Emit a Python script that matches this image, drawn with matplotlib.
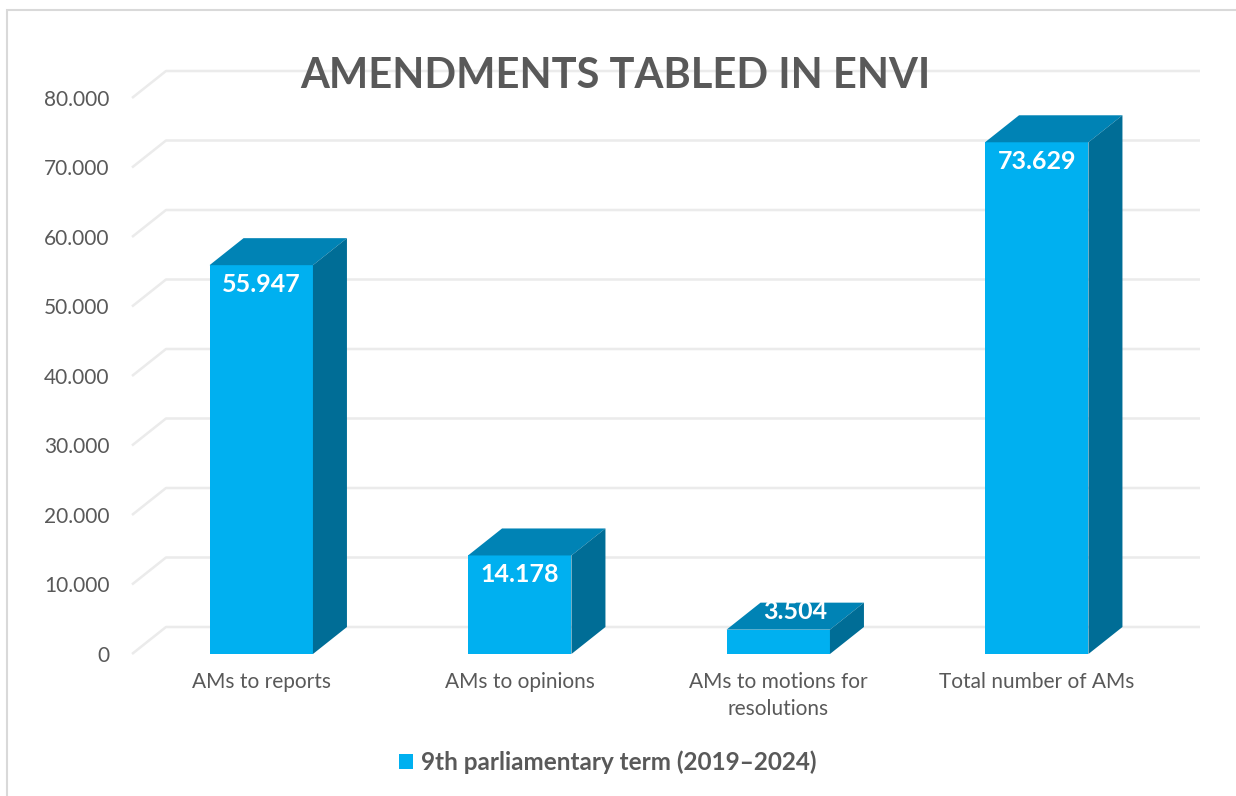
import matplotlib.pyplot as plt
from matplotlib.patches import Patch, Polygon, Rectangle
from matplotlib.ticker import FuncFormatter

categories = ["AMs to reports", "AMs to opinions", "AMs to motions for\nresolutions", "Total number of AMs"]
values = [55947, 14178, 3504, 73629]
series_name = "9th parliamentary term (2019–2024)"
y_ticks = [0, 10000, 20000, 30000, 40000, 50000, 60000, 70000, 80000]
title = "AMENDMENTS TABLED IN ENVI"

FRONT = "#00b0f0"
TOP = "#0083b5"
SIDE = "#006d96"
GRID = "#ebebeb"
TEXT = "#595959"
FONT = "Lato"

W, H = 1236, 796
fig = plt.figure(figsize=(W / 100, H / 100), dpi=100)

# plot area (front plane) in pixels
left_px, right_px, bottom_px, top_px = 132, 1166, 654, 98
ax = fig.add_axes([left_px / W, 1 - bottom_px / H, (right_px - left_px) / W, (bottom_px - top_px) / H])
ax.set_xlim(-0.5, len(categories) - 0.5)
ax.set_ylim(0, y_ticks[-1])
for s in ax.spines.values():
    s.set_visible(False)

# fake 3D depth, in pixels -> data units
depth_x_px, depth_y_px = 34, 27
px_per_cat = (right_px - left_px) / len(categories)
px_per_unit = (bottom_px - top_px) / y_ticks[-1]
dx = depth_x_px / px_per_cat
dy = depth_y_px / px_per_unit

x0, x1 = -0.5, len(categories) - 0.5
for t in y_ticks:
    ax.plot([x0, x0 + dx, x1 + dx], [t, t + dy, t + dy], color=GRID, lw=1.8,
            clip_on=False, zorder=0, solid_capstyle="butt")

width = 0.4
xs = range(len(categories))
ax.bar(xs, values, width=width, color=FRONT, zorder=3)
for x, v in zip(xs, values):
    l, r = x - width / 2, x + width / 2
    ax.add_patch(Polygon([(l, v), (l + dx, v + dy), (r + dx, v + dy), (r, v)],
                         closed=True, facecolor=TOP, edgecolor="none", zorder=3, clip_on=False))
    ax.add_patch(Polygon([(r, 0), (r + dx, dy), (r + dx, v + dy), (r, v)],
                         closed=True, facecolor=SIDE, edgecolor="none", zorder=3, clip_on=False))
    label = f"{v:,}".replace(",", ".")
    if v * px_per_unit < 30:
        off = (depth_x_px / 2 * 0.72, depth_y_px / 2 * 0.72 + 3)
    else:
        off = (0, -14)
    ax.annotate(label, xy=(x, v), xytext=off, textcoords="offset points",
                ha="center", va="center", color="white", fontsize=18,
                fontweight="bold", family=FONT, zorder=5)

ax.set_yticks(y_ticks)
ax.yaxis.set_major_formatter(FuncFormatter(lambda v, p: f"{int(v):,}".replace(",", ".")))
ax.set_xticks(list(xs))
ax.set_xticklabels(categories)
ax.tick_params(axis="both", length=0, labelsize=15, labelcolor=TEXT)
ax.tick_params(axis="y", pad=16)
ax.tick_params(axis="x", pad=13)
for lab in ax.get_xticklabels() + ax.get_yticklabels():
    lab.set_family(FONT)
    lab.set_linespacing(1.45)

fig.text(615 / W, 1 - 76 / H, title, ha="center", va="center", fontsize=30,
         fontweight="bold", color=TEXT, family=FONT)

fig.legend(handles=[Patch(facecolor=FRONT, label=series_name)], loc="center",
           bbox_to_anchor=(608 / W, 1 - 762 / H), frameon=False,
           handlelength=0.55, handleheight=0.55, handletextpad=0.35,
           prop={"family": FONT, "weight": "bold", "size": 17.5}, labelcolor=TEXT)

fig.add_artist(Rectangle((7 / W, -0.1), 1.2, 1.1 - 10.5 / H, transform=fig.transFigure,
                         fill=False, edgecolor="#d9d9d9", lw=1.5))

fig.savefig("out.png", dpi=100, facecolor="white")
